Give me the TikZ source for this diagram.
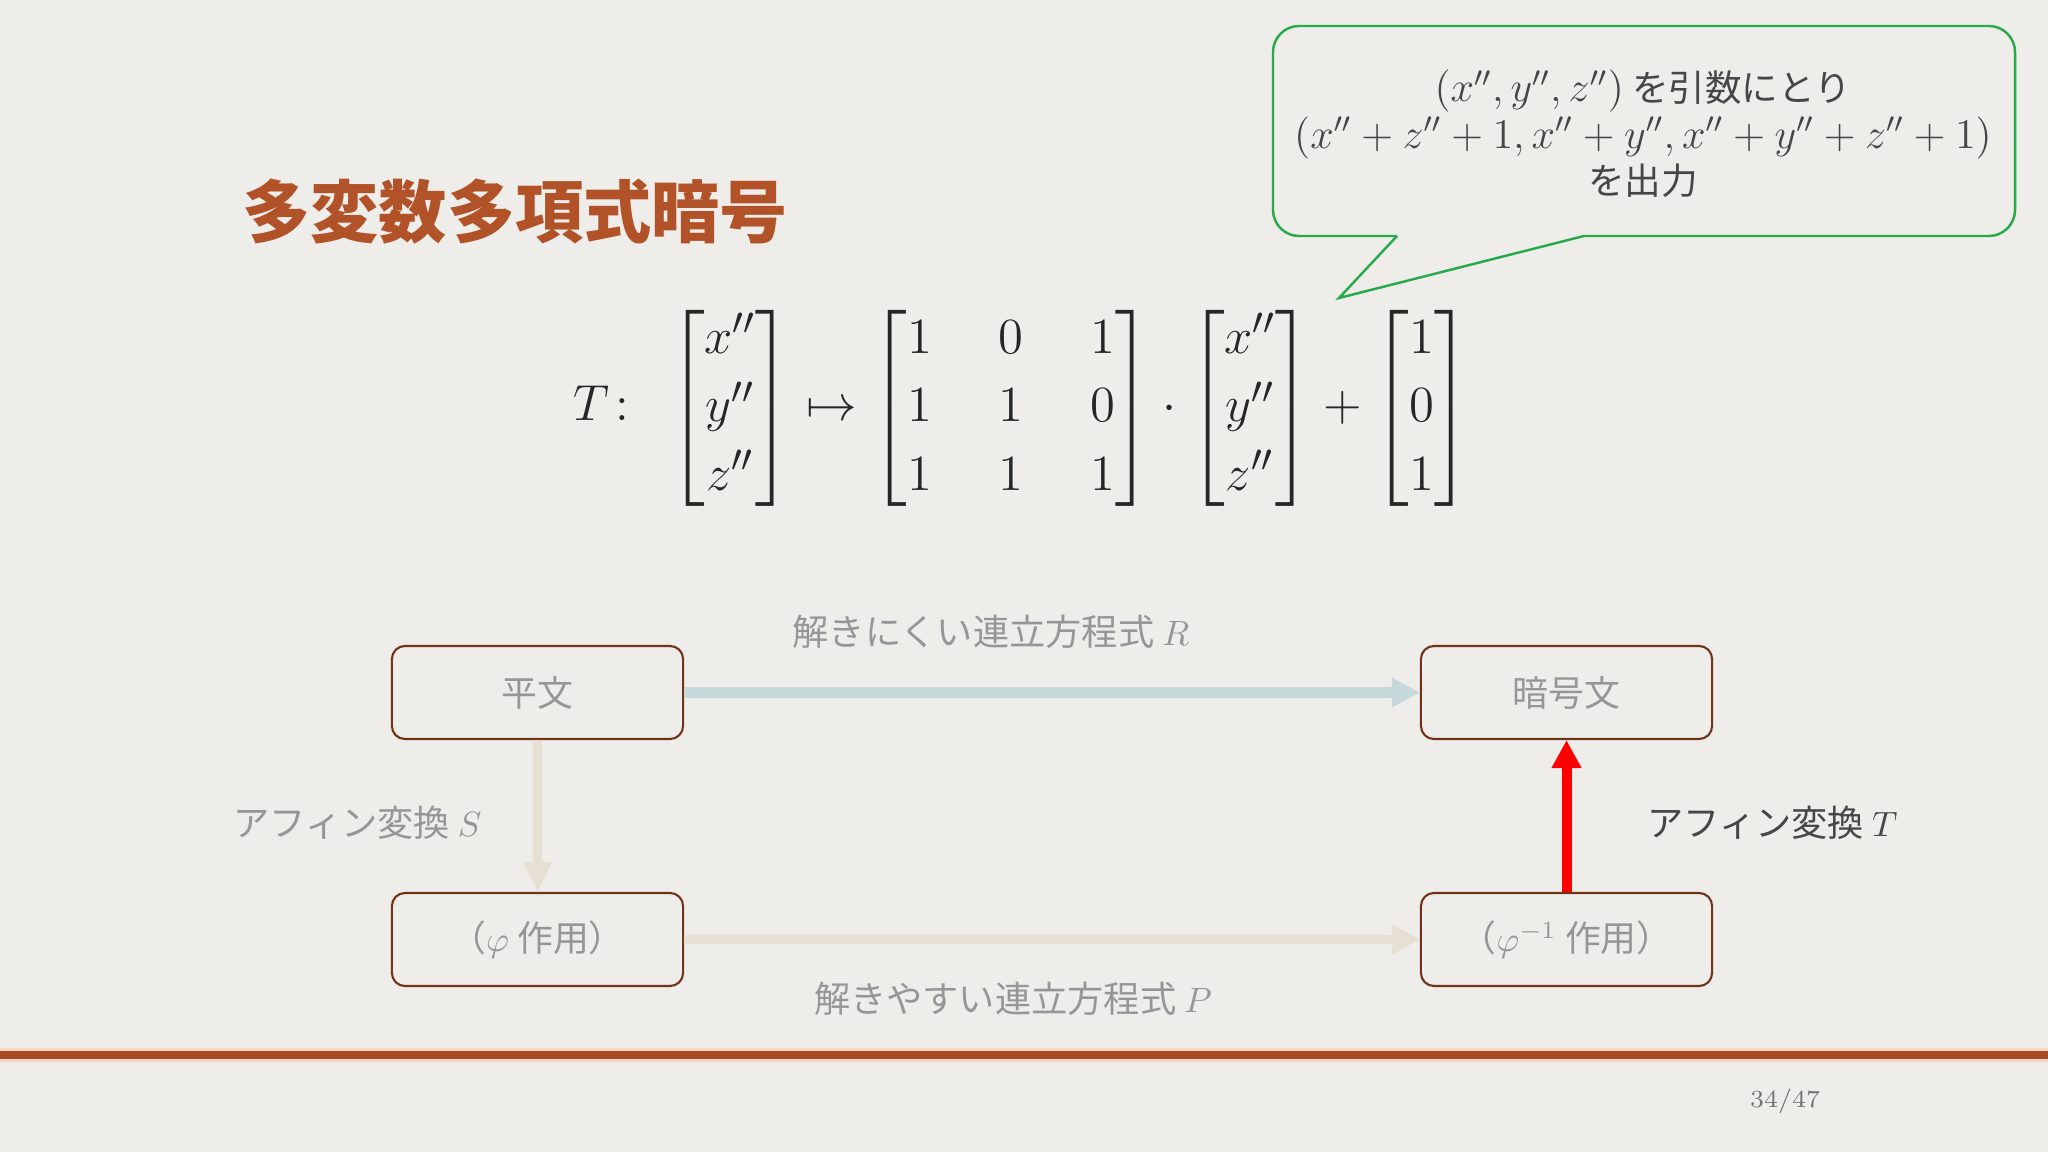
\documentclass[tikz,border=0pt]{standalone}
\usepackage{amsmath, amssymb}
\usepackage{fontspec}
\newfontfamily\jp{Noto Sans CJK JP}
\usetikzlibrary{arrows.meta}

\definecolor{paper}{RGB}{238,237,234}
\definecolor{titlecol}{RGB}{178,82,40}
\definecolor{boxbrown}{RGB}{112,52,26}
\definecolor{boxgray}{RGB}{150,150,150}
\definecolor{lblgray}{RGB}{150,150,150}
\definecolor{darklbl}{RGB}{70,70,70}
\definecolor{rcol}{RGB}{197,217,219}
\definecolor{pcol}{RGB}{230,224,210}
\definecolor{callgreen}{RGB}{40,170,75}
\definecolor{calltext}{RGB}{70,70,70}
\definecolor{barcol}{RGB}{169,74,37}
\definecolor{barpale}{RGB}{246,214,196}

\tikzset{
  box/.style={draw=boxbrown, line width=0.6pt, rounded corners=0.13cm,
    minimum width=2.91cm, minimum height=0.93cm, text=boxgray,
    font=\jp\fontsize{10.2}{12}\selectfont},
  lbl/.style={text=lblgray, font=\jp\fontsize{10.3}{12}\selectfont},
  fat/.style={line width=0.1cm, -{Triangle[length=0.28cm, width=0.28cm]}},
}

\begin{document}
\begin{tikzpicture}[x=0.01cm, y=-0.01cm]
    \fill[paper] (0,0) rectangle (2048,1152);
    \useasboundingbox (0,0) rectangle (2048,1152);

    \node[anchor=west, text=titlecol, font=\jp\bfseries\fontsize{19.4}{22}\selectfont] (title) at (230,212) {多変数多項式暗号};

    \draw[callgreen, line width=0.7pt, rounded corners=0.26cm] (1397,236) -- (1273,236) -- (1273,26) -- (2015,26) -- (2015,236) -- (1584,236);
    \draw[callgreen, line width=0.7pt] (1397,236) -- (1339,298) -- (1584,236);
    \node[align=center, text=calltext, font=\jp\fontsize{10.4}{13.2}\selectfont] (memo) at (1643,134)
        {{\fontsize{11.5}{13.2}\selectfont$(x'',y'',z'')$} を引数にとり\\
         {\fontsize{11.5}{13.2}\selectfont$(x''+z''+1,x''+y'',x''+y''+z''+1)$}\\
         を出力};

    \node[text=black!85, font=\fontsize{15.5}{19.5}\selectfont] (eq) at (1022,408)
        {\setlength{\arraycolsep}{9.5pt}$T\colon\; \begin{bmatrix}x''\\y''\\z''\end{bmatrix} \mapsto
         \begin{bmatrix}1&0&1\\1&1&0\\1&1&1\end{bmatrix}\cdot
         \begin{bmatrix}x''\\y''\\z''\end{bmatrix}+\begin{bmatrix}1\\0\\1\end{bmatrix}$};

    \node[box] (plain) at (537.5,692.5) {平文};
    \node[box] (cipher) at (1566.5,692.5) {暗号文};
    \node[box] (phi) at (537.5,939.5) {（$\varphi$ 作用）};
    \node[box] (phiinv) at (1566.5,939.5) {（$\varphi^{-1}$ 作用）};

    \draw[fat, rcol] (plain) -- (cipher);
    \draw[pcol, line width=0.087cm, -{Triangle[length=0.3cm, width=0.27cm]}] (plain) -- (phi);
    \draw[fat, pcol, line width=0.09cm] (phi) -- (phiinv);
    \draw[fat, red] (phiinv) -- (cipher);

    \node[lbl] (rlbl) at (991,632) {解きにくい連立方程式 $R$};
    \node[lbl] (plbl) at (1013,999) {解きやすい連立方程式 $P$};
    \node[lbl, anchor=east] (slbl) at (494,823) {アフィン変換 $S$};
    \node[lbl, anchor=west, text=darklbl] (tlbl) at (1635,823) {アフィン変換 $T$};

    \draw[barpale, line width=0.6pt] (0,1049.5) -- (2048,1049.5);
    \fill[barcol] (0,1050.5) rectangle (2048,1059.5);
    \draw[barpale, line width=0.6pt] (0,1060.5) -- (2048,1060.5);
    \node[text=black!55, font=\fontsize{7}{8}\selectfont] (page) at (1785,1101) {34/47};
\end{tikzpicture}
\end{document}
